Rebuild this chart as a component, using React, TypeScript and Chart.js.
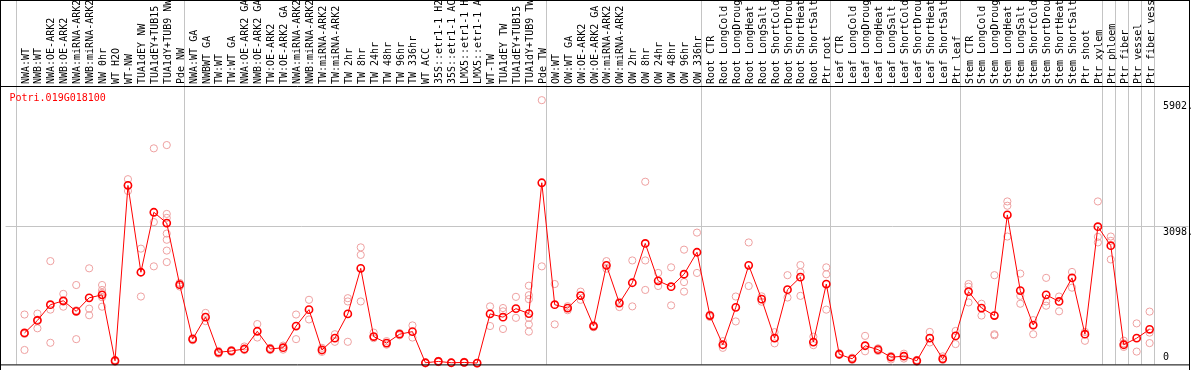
import React, { useEffect, useRef } from "react";
import { Chart, registerables } from "chart.js";

Chart.register(...registerables);

const TITLE = "Potri.019G018100";

const categories: string[] = [
  "NWA:WT", "NWB:WT", "NWA:OE-ARK2", "NWB:OE-ARK2", "NWA:miRNA-ARK2", "NWB:miRNA-ARK2",
  "NW 0hr", "WT H2O", "WT-NW", "TUA1dEY NW", "TUA1dEY+TUB15", "TUA1dY+TUB9 NW", "Pde NW",
  "NWA:WT GA", "NWBWT GA", "TW:WT", "TW:WT GA", "NWA:OE-ARK2 GA", "NWB:OE-ARK2 GA",
  "TW:OE-ARK2", "TW:OE-ARK2 GA", "NWA:miRNA-ARK2", "NWB:miRNA-ARK2", "TW:miRNA-ARK2",
  "TW:miRNA-ARK2", "TW 2hr", "TW 8hr", "TW 24hr", "TW 48hr", "TW 96hr", "TW 336hr",
  "WT ACC", "35S::etr1-1 H2", "35S::etr1-1 AC", "LMX5::etr1-1 H", "LMX5::etr1-1 A",
  "WT-TW", "TUA1dEY TW", "TUA1dEY+TUB15", "TUA1dY+TUB9 TW", "Pde TW",
  "OW:WT", "OW:WT GA", "OW:OE-ARK2", "OW:OE-ARK2 GA", "OW:miRNA-ARK2", "OW:miRNA-ARK2",
  "OW 2hr", "OW 8hr", "OW 24hr", "OW 48hr", "OW 96hr", "OW 336hr",
  "Root CTR", "Root LongCold", "Root LongDroug", "Root LongHeat", "Root LongSalt",
  "Root ShortCold", "Root ShortDrou", "Root ShortHeat", "Root ShortSalt", "Ptr root",
  "Leaf CTR", "Leaf LongCold", "Leaf LongDroug", "Leaf LongHeat", "Leaf LongSalt",
  "Leaf ShortCold", "Leaf ShortDrou", "Leaf ShortHeat", "Leaf ShortSalt", "Ptr leaf",
  "Stem CTR", "Stem LongCold", "Stem LongDroug", "Stem LongHeat", "Stem LongSalt",
  "Stem ShortCold", "Stem ShortDrou", "Stem ShortHeat", "Stem ShortSalt", "Ptr shoot",
  "Ptr xylem", "Ptr phloem", "Ptr fiber", "Ptr vessel", "Ptr fiber vess",
];

const means: number[] = [
  703, 982, 1333, 1421, 1186, 1487, 1553, 81, 3998, 2058, 3398, 3157, 1780,
  564, 1055, 271, 300, 344, 740, 344, 373, 857, 1223, 322, 586, 1128, 2146, 622, 476,
  674, 732, 37, 66, 37, 44, 30, 1128, 1055, 1245, 1135, 4057,
  1333, 1259, 1538, 857, 2212, 1369, 1824, 2702, 1867, 1736, 2014, 2505,
  1091, 439, 1274, 2212, 1457, 586, 1670, 1949, 498, 1795,
  227, 125, 417, 330, 161, 183, 81, 586, 125, 637,
  1626, 1259, 1091, 3339, 1648, 879, 1553, 1406, 1933, 674, 3076,
  2651, 439, 586, 784,
];

const replicates: number[][] = [
  [1114, 322, 680], [1135, 806, 1000], [2307, 1223, 483], [1575, 1289, 1400],
  [1773, 1208, 564], [2146, 1245, 1098], [1773, 1663, 1600, 1500, 1289], [100, 60, 85],
  [4137, 3874, 4000], [2586, 1516, 2060], [4826, 3179, 2190],
  [4899, 3361, 3273, 2922, 2784, 2542, 2285], [1820, 1740, 1780],
  [590, 540, 560], [1150, 967], [300, 240, 270], [320, 280], [400, 320], [901, 600],
  [370, 320], [420, 330], [1114, 564], [1443, 1004], [370, 280], [674, 505],
  [1479, 1406, 505], [2614, 2446, 1406], [710, 586], [520, 440], [700, 650], [871, 600],
  [20, 40], [80, 50], [30, 45], [60, 35], [20, 35], [1296, 857], [1259, 1186, 791],
  [1509, 1040], [1758, 1545, 1457, 1040, 894, 732], [5902, 2190],
  [1795, 894], [1300, 1210], [1626, 1443], [880, 830], [2307, 2138], [1281, 1400],
  [2322, 1296], [4080, 2322, 1663], [2043, 1751], [2168, 1318], [2563, 1839, 1626],
  [2944, 2043],
  [1060, 1110], [520, 370], [1516, 960], [2724, 1751], [1520, 1400], [720, 470],
  [1993, 1494], [2219, 2058, 1531], [620, 430], [2168, 2014, 1223],
  [250, 210], [100, 150], [637, 293], [360, 300], [110, 190], [240, 130], [60, 100],
  [725, 490], [180, 100], [747, 454],
  [1795, 1736, 1384], [1355, 1091], [1993, 674, 650], [3640, 3544, 2856],
  [2028, 1531, 1355], [989, 674], [1933, 1406, 1311], [1516, 1186], [2065, 1714],
  [725, 527], [3640, 2849, 2724],
  [2856, 2760, 2344], [530, 390, 470], [916, 286], [1179, 710, 476],
];

// group separators (in category-index units)
const separators: number[] = [-0.65, 12.35, 40.35, 52.32, 62.32, 72.35, 83.33, 84.35, 85.33, 86.35, 87.36];
const yTickValues: number[] = [5902, 3098, 0];
const yTickLabels: string[] = ["5902.", "3098.", "0"];
const yGridValues: number[] = [3098];
const Y_MAX = 6196;
const X_MIN = -19 / 13;
const X_MAX = 90;

const FONT = "10px 'DejaVu Sans Mono', monospace";

const decorPlugin = {
  id: "decor",
  beforeDatasetsDraw(chart: any) {
    const { ctx, chartArea, scales } = chart;
    const xs = scales.x;
    const ys = scales.y;
    ctx.save();
    ctx.strokeStyle = "#c4c4c4";
    ctx.lineWidth = 1;
    for (const s of separators) {
      const x = Math.round(xs.getPixelForValue(s)) + 0.5;
      ctx.beginPath();
      ctx.moveTo(x, 0);
      ctx.lineTo(x, chartArea.bottom);
      ctx.stroke();
    }
    for (const v of yGridValues) {
      const y = Math.round(ys.getPixelForValue(v)) + 0.5;
      ctx.beginPath();
      ctx.moveTo(chartArea.left, y);
      ctx.lineTo(chartArea.right, y);
      ctx.stroke();
    }
    ctx.restore();
  },
  afterDatasetsDraw(chart: any) {
    const { ctx, chartArea, scales } = chart;
    const xs = scales.x;
    const ys = scales.y;
    ctx.save();
    // header labels
    ctx.fillStyle = "#000";
    ctx.font = FONT;
    categories.forEach((label, i) => {
      const x = xs.getPixelForValue(i);
      ctx.save();
      ctx.translate(x + 4, 84);
      ctx.rotate(-Math.PI / 2);
      ctx.textAlign = "left";
      ctx.textBaseline = "alphabetic";
      ctx.fillText(label, 0, 0);
      ctx.restore();
    });
    // title
    ctx.fillStyle = "#ff0000";
    ctx.textAlign = "left";
    ctx.textBaseline = "alphabetic";
    ctx.fillText(TITLE, 9.5, 101);
    // right-side value labels
    ctx.fillStyle = "#000";
    yTickValues.forEach((v, i) => {
      const y = ys.getPixelForValue(v);
      if (v === 0) {
        ctx.textBaseline = "alphabetic";
        ctx.fillText(yTickLabels[i], 1163, y - 4);
      } else {
        ctx.textBaseline = "top";
        ctx.fillText(yTickLabels[i], 1163, y + 1.5);
      }
    });
    // frame
    ctx.strokeStyle = "#000";
    ctx.lineWidth = 1;
    ctx.beginPath();
    ctx.moveTo(0, 0.5);
    ctx.lineTo(1190, 0.5);
    ctx.moveTo(0.5, 0);
    ctx.lineTo(0.5, 370);
    ctx.moveTo(0, 86.5);
    ctx.lineTo(1190, 86.5);
    ctx.moveTo(0, chartArea.bottom + 0.5);
    ctx.lineTo(1190, chartArea.bottom + 0.5);
    ctx.moveTo(1189.5, 0);
    ctx.lineTo(1189.5, 370);
    ctx.stroke();
    ctx.restore();
  },
};

export default function App() {
  const canvasRef = useRef<HTMLCanvasElement | null>(null);

  useEffect(() => {
    const canvas = canvasRef.current;
    if (!canvas) return;
    const repPoints: { x: number; y: number }[] = [];
    replicates.forEach((arr, i) => arr.forEach((v) => repPoints.push({ x: i, y: v })));
    const meanPoints = means.map((v, i) => ({ x: i, y: v }));

    const chart = new Chart(canvas, {
      type: "line",
      data: {
        datasets: [
          {
            label: "mean",
            data: meanPoints,
            order: 0,
            borderColor: "#ff0000",
            borderWidth: 1,
            tension: 0,
            pointRadius: 3.6,
            pointBorderWidth: 1.6,
            pointBorderColor: "#ff0000",
            pointBackgroundColor: "rgba(0,0,0,0)",
            clip: false,
          } as any,
          {
            label: "replicates",
            data: repPoints,
            order: 1,
            showLine: false,
            pointRadius: 3.6,
            pointBorderWidth: 1,
            pointBorderColor: "#eea0a0",
            pointBackgroundColor: "rgba(0,0,0,0)",
            clip: false,
          } as any,
        ],
      },
      options: {
        animation: false,
        responsive: false,
        maintainAspectRatio: false,
        devicePixelRatio: 1,
        layout: { padding: { left: 1, right: 4, top: 87, bottom: 1 } },
        scales: {
          x: { type: "linear", min: X_MIN, max: X_MAX, display: false },
          y: { type: "linear", min: 0, max: Y_MAX, display: false },
        },
        plugins: {
          legend: { display: false },
          tooltip: { enabled: false },
          title: { display: false },
        },
        events: [],
      },
      plugins: [decorPlugin],
    });
    return () => chart.destroy();
  }, []);

  return (
    <div style={{ position: "fixed", left: 0, top: 0, width: 1194, height: 370, background: "#fff" }}>
      <canvas ref={canvasRef} width={1194} height={370} style={{ display: "block" }} />
    </div>
  );
}
